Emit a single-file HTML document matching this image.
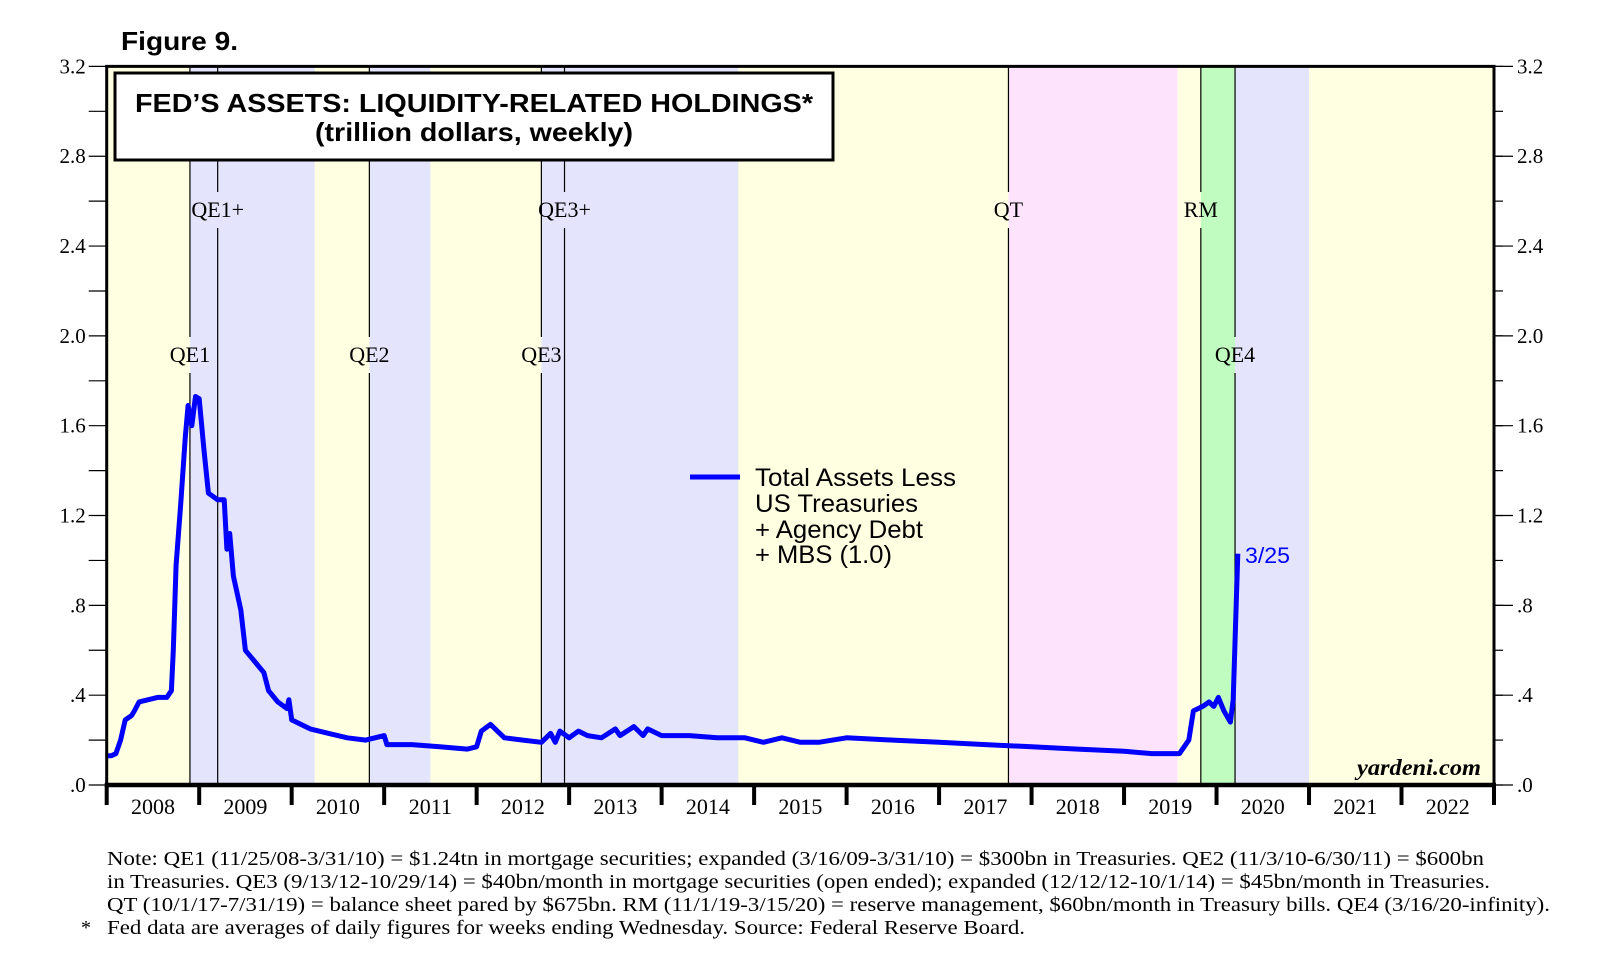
<!DOCTYPE html>
<html><head><meta charset="utf-8"><style>
html,body{margin:0;padding:0;background:#fff;}
svg{display:block;}
</style></head><body>
<svg id="chart" width="1621" height="976" viewBox="0 0 1621 976" xmlns="http://www.w3.org/2000/svg">
<g id="bands"></g>
<g id="vlines"></g>
<g id="series"></g>
<g id="axes"></g>
<text x="121" y="50" font-family="'Liberation Sans', sans-serif" font-weight="bold" font-size="26" textLength="117" lengthAdjust="spacingAndGlyphs">Figure 9.</text>
<g>
<rect x="115" y="73" width="718" height="87" fill="#fff" stroke="#000" stroke-width="3"/>
<text x="474" y="112" text-anchor="middle" font-family="'Liberation Sans', sans-serif" font-weight="bold" font-size="26" textLength="678" lengthAdjust="spacingAndGlyphs">FED’S ASSETS: LIQUIDITY-RELATED HOLDINGS*</text>
<text x="474" y="141" text-anchor="middle" font-family="'Liberation Sans', sans-serif" font-weight="bold" font-size="26" textLength="318" lengthAdjust="spacingAndGlyphs">(trillion dollars, weekly)</text>
</g>
<g font-family="'Liberation Sans', sans-serif" font-size="25">
<line x1="690" y1="477" x2="740" y2="477" stroke="#0000ff" stroke-width="5"/>
<text x="755" y="486" textLength="201" lengthAdjust="spacingAndGlyphs">Total Assets Less</text>
<text x="755" y="512" textLength="163" lengthAdjust="spacingAndGlyphs">US Treasuries</text>
<text x="755" y="538" textLength="168" lengthAdjust="spacingAndGlyphs">+ Agency Debt</text>
<text x="755" y="563" textLength="137" lengthAdjust="spacingAndGlyphs">+ MBS (1.0)</text>
</g>
<text x="1245" y="563" fill="#0000ff" font-family="'Liberation Sans', sans-serif" font-size="22" textLength="45" lengthAdjust="spacingAndGlyphs">3/25</text>
<text x="1481" y="775" text-anchor="end" font-family="'Liberation Serif', serif" font-style="italic" font-weight="bold" font-size="23" textLength="124" lengthAdjust="spacingAndGlyphs">yardeni.com</text>
<g font-family="'Liberation Serif', serif" font-size="20">
<text x="107" y="865" textLength="1377" lengthAdjust="spacingAndGlyphs">Note: QE1 (11/25/08-3/31/10) = $1.24tn in mortgage securities; expanded (3/16/09-3/31/10) = $300bn in Treasuries. QE2 (11/3/10-6/30/11) = $600bn</text>
<text x="107" y="888" textLength="1383" lengthAdjust="spacingAndGlyphs">in Treasuries. QE3 (9/13/12-10/29/14) = $40bn/month in mortgage securities (open ended); expanded (12/12/12-10/1/14) = $45bn/month in Treasuries.</text>
<text x="107" y="911" textLength="1443" lengthAdjust="spacingAndGlyphs">QT (10/1/17-7/31/19) = balance sheet pared by $675bn. RM (11/1/19-3/15/20) = reserve management, $60bn/month in Treasury bills. QE4 (3/16/20-infinity).</text>
<text x="81" y="934">*</text>
<text x="107" y="934" textLength="918" lengthAdjust="spacingAndGlyphs">Fed data are averages of daily figures for weeks ending Wednesday. Source: Federal Reserve Board.</text>
</g>
</svg>
<script>
const dates = [2008.0,2008.05,2008.1,2008.15,2008.2,2008.27,2008.3,2008.35,2008.45,2008.55,2008.65,2008.7,2008.72,2008.75,2008.8,2008.85,2008.88,2008.92,2008.96,2009.0,2009.05,2009.1,2009.2,2009.27,2009.3,2009.33,2009.37,2009.45,2009.5,2009.6,2009.7,2009.75,2009.85,2009.95,2009.97,2010.0,2010.1,2010.2,2010.4,2010.6,2010.8,2011.0,2011.03,2011.3,2011.6,2011.9,2012.0,2012.05,2012.15,2012.3,2012.5,2012.7,2012.8,2012.85,2012.9,2013.0,2013.1,2013.2,2013.35,2013.5,2013.55,2013.7,2013.8,2013.85,2014.0,2014.3,2014.6,2014.9,2015.1,2015.3,2015.5,2015.7,2016.0,2016.5,2017.0,2017.5,2018.0,2018.5,2019.0,2019.3,2019.6,2019.7,2019.75,2019.85,2019.92,2019.97,2020.02,2020.08,2020.15,2020.18,2020.23];
const values = [0.13,0.13,0.14,0.2,0.29,0.31,0.33,0.37,0.38,0.39,0.39,0.42,0.6,0.98,1.25,1.55,1.69,1.6,1.73,1.72,1.5,1.3,1.27,1.27,1.05,1.12,0.93,0.78,0.6,0.55,0.5,0.42,0.37,0.34,0.38,0.29,0.27,0.25,0.23,0.21,0.2,0.22,0.18,0.18,0.17,0.16,0.17,0.24,0.27,0.21,0.2,0.19,0.23,0.19,0.24,0.21,0.24,0.22,0.21,0.25,0.22,0.26,0.22,0.25,0.22,0.22,0.21,0.21,0.19,0.21,0.19,0.19,0.21,0.2,0.19,0.18,0.17,0.16,0.15,0.14,0.14,0.2,0.33,0.35,0.37,0.35,0.39,0.33,0.28,0.38,1.03];
const yTicks = [0,0.4,0.8,1.2,1.6,2.0,2.4,2.8,3.2];
const yTickLabels = [".0",".4",".8","1.2","1.6","2.0","2.4","2.8","3.2"];
const years = [2008,2009,2010,2011,2012,2013,2014,2015,2016,2017,2018,2019,2020,2021,2022];
const bandStarts = [2008.0,2008.9,2010.25,2010.84,2011.5,2012.7,2014.83,2017.75,2019.58,2019.83,2020.2,2021.0];
const bandEnds   = [2008.9,2010.25,2010.84,2011.5,2012.7,2014.83,2017.75,2019.58,2019.83,2020.2,2021.0,2023.0];
const bandKinds  = ["y","b","y","b","y","b","y","p","y","g","b","y"];
const eventDates = [2008.9,2009.2,2010.84,2012.7,2012.95,2017.75,2019.83,2020.2];
const eventLabels = ["QE1","QE1+","QE2","QE3","QE3+","QT","RM","QE4"];
const eventRow = [1,0,1,1,0,0,0,1];

const NS="http://www.w3.org/2000/svg";
const X0=106.7, X1=1494, Y0=785, Y1=66.4, T0=2008, T1=2023, V1=3.2;
const xs=t=>X0+(t-T0)/(T1-T0)*(X1-X0);
const ys=v=>Y0-v/V1*(Y0-Y1);
const colors={y:"#ffffe2",b:"#e4e4fc",p:"#fde4fc",g:"#c0fcc0"};
const SERIF="'Liberation Serif', serif";
function mk(tag,parent,attrs){const e=document.createElementNS(NS,tag);for(const k in attrs)e.setAttribute(k,attrs[k]);parent.appendChild(e);return e;}

const bands=document.getElementById('bands');
bandStarts.forEach((s,i)=>{
  const r=mk('rect',bands,{x:xs(s),y:Y1,width:xs(bandEnds[i])-xs(s),height:Y0-Y1,fill:colors[bandKinds[i]]});
  
  
});

const vl=document.getElementById('vlines');
eventDates.forEach((d,i)=>{
  const x=xs(d);
  const ly = eventRow[i]===0 ? 217 : 362;
  const l1=mk('line',vl,{x1:x,y1:Y1,x2:x,y2:ly-25,stroke:"#000","stroke-width":1.2});
  
  
  const l2=mk('line',vl,{x1:x,y1:ly+11,x2:x,y2:Y0,stroke:"#000","stroke-width":1.2});
  
  
  const t=mk('text',vl,{x:x,y:ly,"text-anchor":"middle","font-family":SERIF,"font-size":22});
  t.textContent=eventLabels[i];
  
  
});

const sg=document.getElementById('series');
const p=mk('path',sg,{d:dates.map((d,i)=>(i?'L':'M')+xs(d).toFixed(1)+','+ys(values[i]).toFixed(1)).join(''),fill:"none",stroke:"#0000ff","stroke-width":5,"stroke-linejoin":"round"});



const ax=document.getElementById('axes');
const frame=mk('path',ax,{d:`M${X0},${Y0}L${X0},${Y1}L${X1},${Y1}L${X1},${Y0}`,fill:"none",stroke:"#000","stroke-width":3});


const base=mk('line',ax,{x1:X0-2,y1:Y0,x2:X1+2,y2:Y0,stroke:"#000","stroke-width":4.5});


for(let k=0;k<=16;k++){
  const v=k*0.2, y=ys(v);
  mk('line',ax,{x1:X0-18,y1:y,x2:X0,y2:y,stroke:"#000","stroke-width":1.2});
  mk('line',ax,{x1:X1,y1:y,x2:X1+9,y2:y,stroke:"#000","stroke-width":1.2});
}
yTicks.forEach((v,i)=>{
  const y=ys(v);
  const a=mk('text',ax,{x:X0-21,y:y+7,"text-anchor":"end","font-family":SERIF,"font-size":21});
  a.textContent=yTickLabels[i];
  
  
  const b=mk('text',ax,{x:X1+23,y:y+7,"font-family":SERIF,"font-size":21});
  b.textContent=yTickLabels[i];
  
  
  mk('line',ax,{x1:X1,y1:y,x2:X1+19,y2:y,stroke:"#000","stroke-width":1.2});
});
years.forEach(yr=>{
  const x=xs(yr);
  mk('line',ax,{x1:x,y1:Y0,x2:x,y2:805,stroke:"#000","stroke-width":4});
  const t=mk('text',ax,{x:xs(yr+0.5),y:814,"text-anchor":"middle","font-family":SERIF,"font-size":22});
  t.textContent=String(yr);
  
  
});
mk('line',ax,{x1:X1,y1:Y0,x2:X1,y2:805,stroke:"#000","stroke-width":4});
</script>
</body></html>
